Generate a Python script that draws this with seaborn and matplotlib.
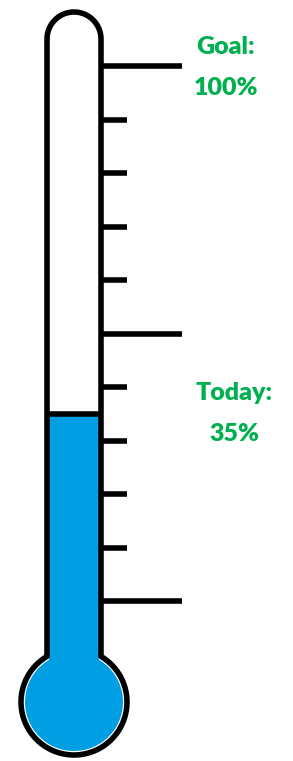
import numpy as np
import matplotlib
matplotlib.use("Agg")
import matplotlib.pyplot as plt
import seaborn as sns

# chart values
tick_values = [0, 10, 20, 30, 40, 50, 60, 70, 80, 90, 100]
major_ticks = [0, 50, 100]
goal = 100
today = 35
goal_label = ["Goal:", "100%"]
today_label = ["Today:", "35%"]

blue = "#009FE3"
green = "#00B050"

sns.set_theme(style="white")
plt.rcParams["font.family"] = ["Lato", "DejaVu Sans"]

W, H = 293, 761
fig = plt.figure(figsize=(W / 100, H / 100), dpi=100)
ax = fig.add_axes([0, 0, 1, 1])

# pixel geometry of the glass: 0% at y=601, 100% at y=66
px_per = (601 - 66) / 100.0


def pct(py):
    return (601 - py) / px_per


ax.set_xlim(0, W)
ax.set_ylim(pct(H), pct(0))
ax.axis("off")

cx, r_tube, r_bulb = 74, 27, 53
top_cy, bulb_cy = 39, 702
lw = 4

# mercury: column + bulb
ax.bar(cx, today - pct(bulb_cy), bottom=pct(bulb_cy), width=2 * r_tube - 4,
       color=blue, linewidth=0, zorder=1)
t = np.linspace(0, 2 * np.pi, 300)
ax.fill(cx + (r_bulb - 4) * np.cos(t), pct(bulb_cy + (r_bulb - 4) * np.sin(t)),
        color=blue, linewidth=0, zorder=1)
ax.hlines(today, cx - r_tube, cx + r_tube, color="black", linewidth=lw, zorder=3)

# glass outline
neck = np.degrees(np.arcsin(r_tube / r_bulb))
a_top = np.linspace(np.pi, 2 * np.pi, 100)
a_b = np.radians(np.linspace(-90 + neck, 270 - neck, 300))
ox = np.concatenate([
    [cx - r_tube],
    cx + r_tube * np.cos(a_top),
    cx + r_bulb * np.cos(a_b),
    [cx - r_tube],
])
oy = np.concatenate([
    [top_cy],
    top_cy + r_tube * np.sin(a_top),
    bulb_cy + r_bulb * np.sin(a_b),
    [top_cy],
])
ax.plot(ox, pct(oy), color="black", linewidth=lw, solid_capstyle="butt",
        solid_joinstyle="round", zorder=4)

# scale ticks
for v in tick_values:
    end = 182 if v in major_ticks else 127
    ax.hlines(v, cx + r_tube, end, color="black", linewidth=lw, zorder=4)

# labels
style = dict(color=green, fontsize=18, fontweight="heavy", ha="center", va="center")
ax.text(226, goal + 3.6, goal_label[0], **style)
ax.text(226, goal - 4.2, goal_label[1], **style)
ax.text(234, today + 3.8, today_label[0], **style)
ax.text(234, today - 3.8, today_label[1], **style)

fig.savefig("out.png", dpi=100, facecolor="white")
